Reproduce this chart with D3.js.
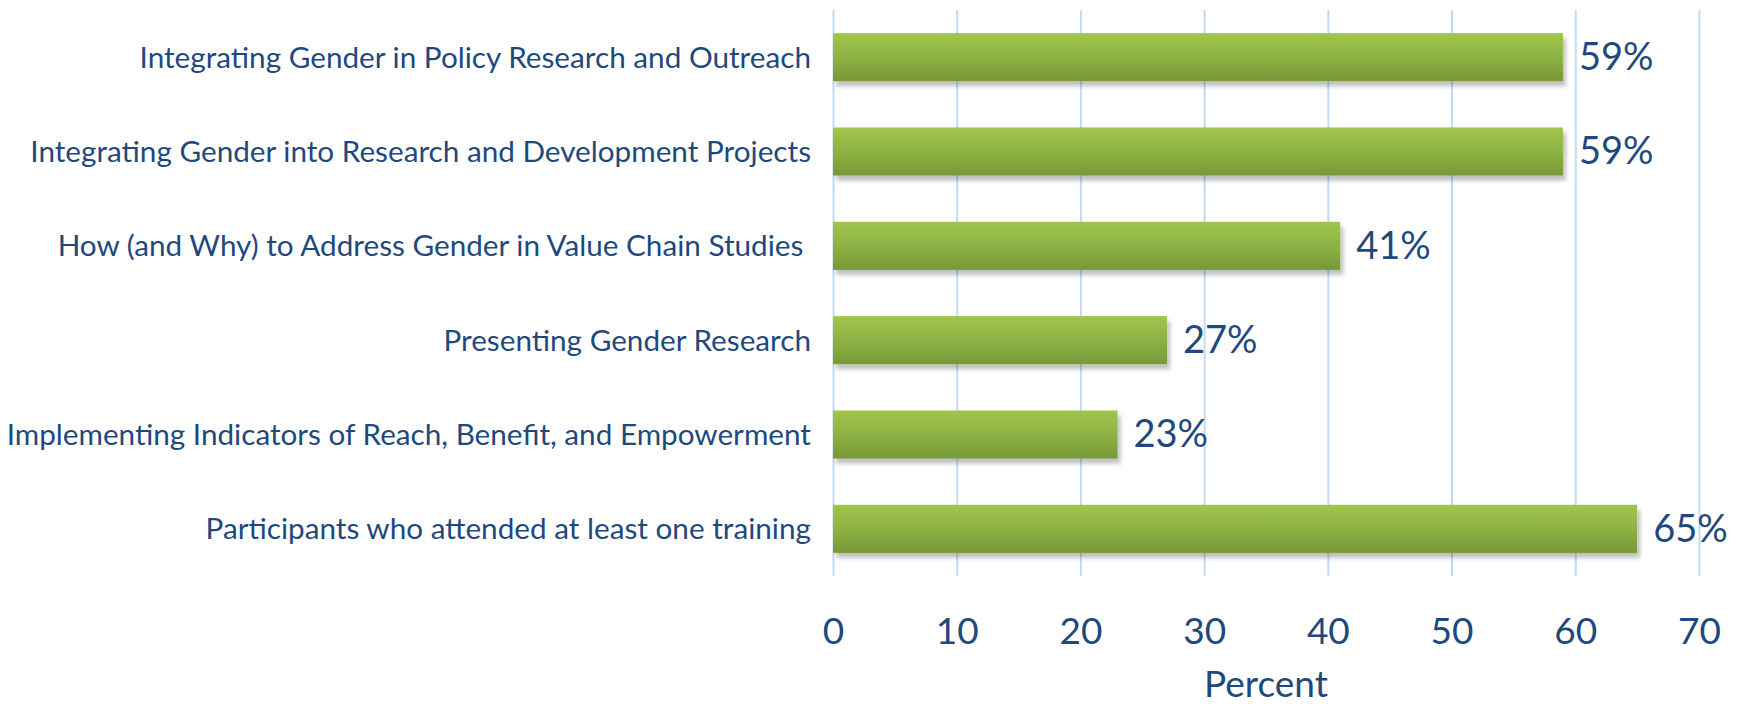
<!DOCTYPE html>
<html>
<head>
<meta charset="utf-8">
<script src="https://cdn.jsdelivr.net/npm/d3@7"></script>
<style>
  body { margin: 0; background: #fff; }
  text { font-family: Lato, "Open Sans", sans-serif; fill: #1f497d; }
</style>
</head>
<body>
<div id="chart"></div>
<script>
//************************************************************************
// data
//************************************************************************
var categories = [
  "Integrating Gender in Policy Research and Outreach",
  "Integrating Gender into Research and Development Projects",
  "How (and Why) to Address Gender in Value Chain Studies ",
  "Presenting Gender Research",
  "Implementing Indicators of Reach, Benefit, and Empowerment",
  "Participants who attended at least one training"
];
var values = [59, 59, 41, 27, 23, 65];
var tickValues = [0, 10, 20, 30, 40, 50, 60, 70];
var axisTitle = "Percent";

//************************************************************************
// display settings
//************************************************************************
var svgWidth = 1741;
var svgHeight = 708;

var margin = { top: 10, right: 42, bottom: 132, left: 833 };
var width = svgWidth - margin.left - margin.right;
var height = svgHeight - margin.top - margin.bottom;

var svg = d3.select("#chart")
  .append("svg")
  .attr("width", svgWidth)
  .attr("height", svgHeight);

// gradient + shadow for the bars
var defs = svg.append("defs");
var grad = defs.append("linearGradient")
  .attr("id", "barGrad")
  .attr("x1", 0).attr("y1", 0).attr("x2", 0).attr("y2", 1);
grad.append("stop").attr("offset", "0%").attr("stop-color", "#a0c64d");
grad.append("stop").attr("offset", "50%").attr("stop-color", "#8db244");
grad.append("stop").attr("offset", "100%").attr("stop-color", "#779838");

var shadow = defs.append("filter")
  .attr("id", "barShadow")
  .attr("x", "-5%").attr("y", "-20%")
  .attr("width", "115%").attr("height", "160%");
shadow.append("feDropShadow")
  .attr("dx", 3).attr("dy", 5)
  .attr("stdDeviation", 2)
  .attr("flood-color", "#000")
  .attr("flood-opacity", 0.25);

var chart = svg.append("g")
  .attr("transform", `translate(${margin.left}, ${margin.top})`);

//************************************************************************
// scales
//************************************************************************
var xScale = d3.scaleLinear().domain([0, 70]).range([0, width]);
var yScale = d3.scaleBand()
  .domain(categories)
  .range([0, height])
  .paddingInner(0.49)
  .paddingOuter(0.245);

//************************************************************************
// axis with gridlines
//************************************************************************
var bottomAxis = d3.axisBottom(xScale)
  .tickValues(tickValues)
  .tickSize(-height)
  .tickPadding(42)
  .tickFormat(d3.format("d"));

var xAxis = chart.append("g")
  .attr("transform", `translate(0, ${height})`)
  .call(bottomAxis);
xAxis.select(".domain").remove();
xAxis.selectAll(".tick line")
  .attr("stroke", "#c6d9f1")
  .attr("stroke-width", 2);
xAxis.selectAll(".tick text")
  .attr("fill", "#1f497d")
  .style("font-size", "37px");

//************************************************************************
// bars
//************************************************************************
chart.selectAll(".bar")
  .data(values)
  .enter()
  .append("rect")
  .attr("class", "bar")
  .attr("x", xScale(0))
  .attr("y", (d, i) => yScale(categories[i]))
  .attr("width", d => xScale(d) - xScale(0))
  .attr("height", yScale.bandwidth())
  .attr("fill", "url(#barGrad)")
  .attr("filter", "url(#barShadow)");

// value labels
chart.selectAll(".value")
  .data(values)
  .enter()
  .append("text")
  .attr("class", "value")
  .attr("x", d => xScale(d) + 16)
  .attr("y", (d, i) => yScale(categories[i]) + yScale.bandwidth() / 2)
  .attr("dy", "0.34em")
  .style("font-size", "38px")
  .text(d => d + "%");

// category labels (keep the trailing space of the original label)
chart.selectAll(".cat")
  .data(categories)
  .enter()
  .append("text")
  .attr("class", "cat")
  .attr("x", -22)
  .attr("y", d => yScale(d) + yScale.bandwidth() / 2)
  .attr("dy", "0.35em")
  .attr("text-anchor", "end")
  .style("font-size", "29.7px")
  .style("white-space", "pre")
  .text(d => d);

// axis title
chart.append("text")
  .attr("x", width / 2)
  .attr("y", height + 121)
  .attr("text-anchor", "middle")
  .style("font-size", "37px")
  .text(axisTitle);
</script>
</body>
</html>
